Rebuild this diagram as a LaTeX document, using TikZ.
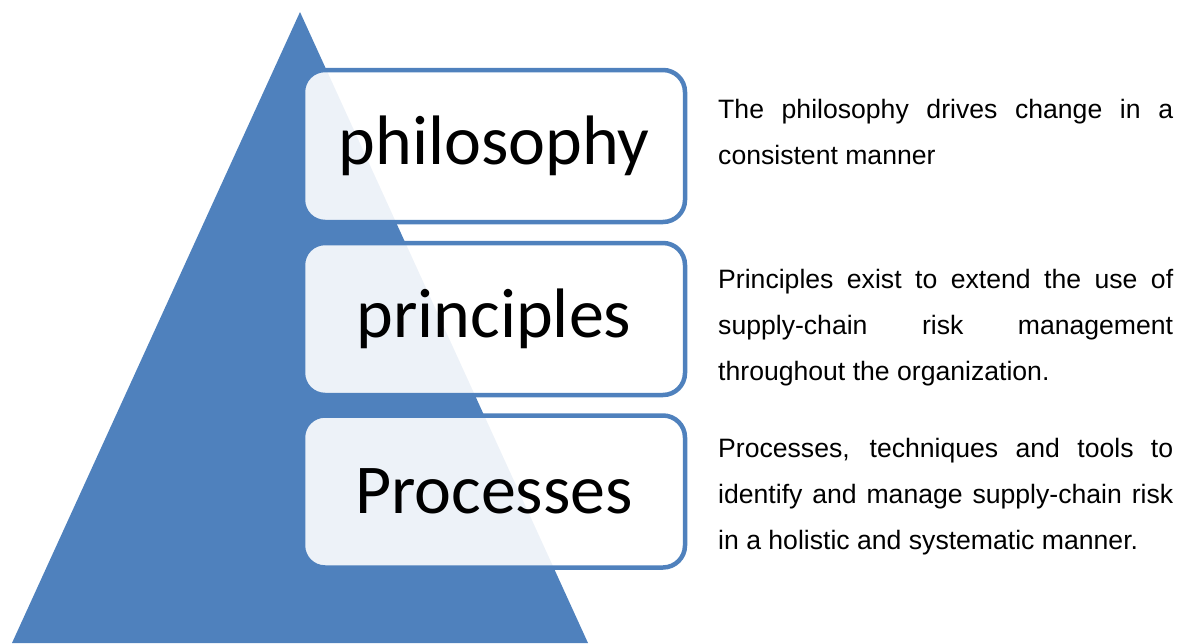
\documentclass[tikz,border=0pt]{standalone}
\usepackage{fontspec}
\setmainfont{Liberation Sans}
\newfontfamily\levelfont{Carlito}
\usetikzlibrary{positioning}
\definecolor{pyramidblue}{HTML}{4F81BD}
\tolerance=10000
\hbadness=10000
\hyphenpenalty=10000
\exhyphenpenalty=10000

\begin{document}
\begin{tikzpicture}[x=1pt, y=-1pt]
	\tikzstyle{level} = [ draw=pyramidblue, line width=4.5pt, rounded corners=22pt, fill=white, fill opacity=0.9, text opacity=1, minimum width=382pt, minimum height=152pt, font={\levelfont\fontsize{70}{84}\selectfont} ];
	\tikzstyle{info} = [ anchor=base west, inner sep=0pt, text width=455pt, align=justify, font={\fontsize{26.6}{46}\selectfont} ];

	\useasboundingbox (0,0) rectangle (1190,643);

	% the pyramid behind the levels
	\fill[pyramidblue] (300,12) -- (12,643) -- (588,643) -- cycle;

	\foreach \name/\y/\ty/\word/\desc in {
		philosophy/146/118/philosophy/{The philosophy drives change in a\linebreak consistent manner},
		principles/319/288/principles/{Principles exist to extend the use of\linebreak supply-chain risk management\linebreak throughout the organization.},
		processes/491.5/457/Processes/{Processes, techniques and tools to\linebreak identify and manage supply-chain risk\linebreak in a holistic and systematic manner.}
	} {
		\node[level] (\name) at (494,\y) {\word};
		\node[info] (d-\name) at (718,\ty) {\desc};
	}
\end{tikzpicture}
\end{document}
